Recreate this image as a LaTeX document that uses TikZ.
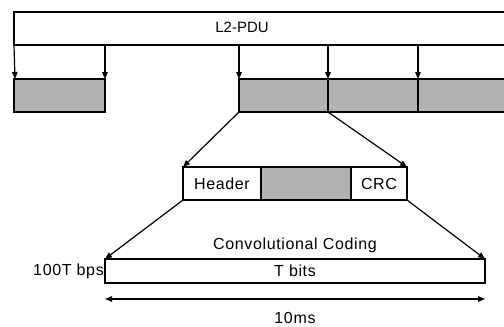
\documentclass[tikz,border=0pt]{standalone}
\usepackage{fontspec}
\setmainfont{Liberation Sans}
\newfontfamily\widefont[LetterSpace=4]{Liberation Sans}
\usetikzlibrary{arrows.meta}

\begin{document}
\begin{tikzpicture}[x=1pt, y=-1pt,
    blk/.style={draw, line width=1.2pt, inner sep=0pt, outer sep=0pt, anchor=north west,
                minimum height=33pt, font=\widefont\fontsize{16}{18}\selectfont},
    seg/.style={blk, fill=gray!60},
    lbl/.style={font=\widefont\fontsize{16}{18}\selectfont},
    >={Triangle[length=7pt, width=5.5pt]},
]
\clip (0,0) rectangle (504,327);

% L2 frame, running off the right edge
\node[blk, minimum width=506pt] (pdu) at (14,12) {};
\node[font=\fontsize{15}{17}\selectfont] (pdutxt) at (242,27) {L2-PDU};

% segments
\node[seg, minimum width=91pt] (segA) at (14,79) {};
\node[seg, minimum width=89pt] (segB) at (239,79) {};
\node[seg, minimum width=90pt] (segC) at (328,79) {};
\node[seg, minimum width=100pt] (segD) at (418,79) {};

\draw[->, line width=1.2pt] (segA.north west |- pdu.south) -- ([xshift=1pt]segA.north west);
\draw[->, line width=1.2pt] (segA.north east |- pdu.south) -- (segA.north east);
\draw[->, line width=1.2pt] (segB.north west |- pdu.south) -- (segB.north west);
\draw[->, line width=1.2pt] (segC.north west |- pdu.south) -- (segC.north west);
\draw[->, line width=1.2pt] (segD.north west |- pdu.south) -- (segD.north west);

% one segment with header and CRC
\node[blk, minimum width=78pt] (hdr) at (183,167) {Header};
\node[seg, minimum width=90pt] (pay) at (261,167) {};
\node[blk, minimum width=56pt] (crc) at (351,167) {CRC};

\draw[->, line width=1.2pt] (segB.south west) -- (hdr.north west);
\draw[->, line width=1.2pt] (segC.south west) -- (crc.north east);

% coded block
\node[blk, minimum width=380pt, minimum height=24pt] (coded) at (105,259) {T bits};
\node[lbl] (conv) at (295,245) {Convolutional Coding};
\node[lbl, anchor=east, inner sep=1pt] (rate) at (coded.west) {100T bps};

\draw[->, line width=1.2pt] (hdr.south west) -- (coded.north west);
\draw[->, line width=1.2pt] (crc.south east) -- (coded.north east);

\draw[<->, line width=1.4pt] ([yshift=-16pt]coded.south west) -- ([yshift=-16pt]coded.south east);
\node[lbl] (dur) at (295,318) {10ms};
\end{tikzpicture}
\end{document}
